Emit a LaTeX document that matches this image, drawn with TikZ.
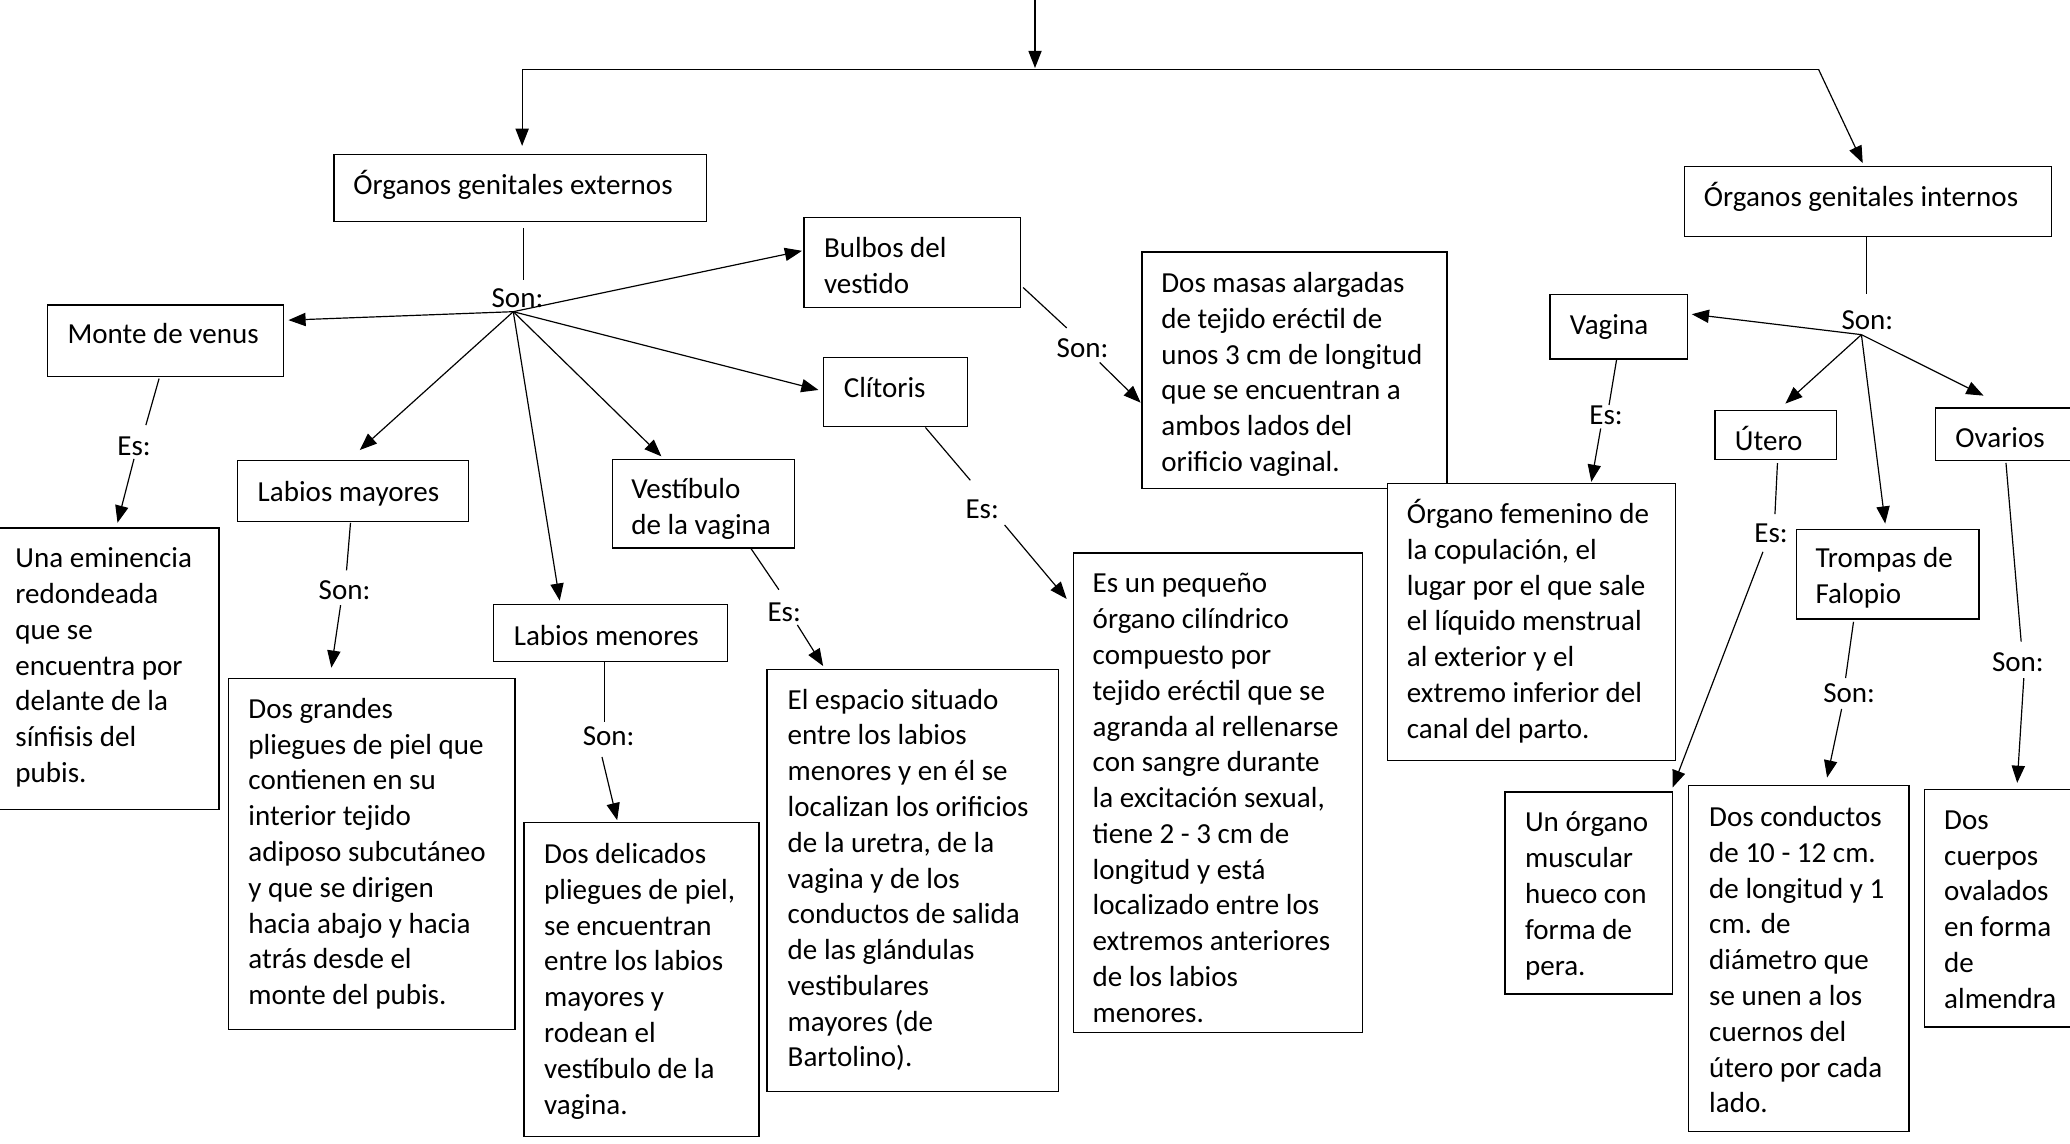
\documentclass[tikz,border=0pt]{standalone}
\usepackage{fontspec}
\setmainfont{Carlito}
\usetikzlibrary{arrows.meta}
\newcommand\mainsize{\fontsize{22}{27.1}\selectfont}
\newcommand\mkbox[5]{\node[box, anchor=north west, minimum width={#4-#2}, minimum height={#5-#3}] (#1) at (#2,#3) {};}
\newcommand\mktext[4]{\node[txt] (#1) at (#2,{#3-18}) {\strut #4};}
\tikzset{
  box/.style={draw, line width=1pt, fill=white, inner sep=0pt, outer sep=0pt},
  txt/.style={inner sep=0pt, anchor=north west, align=left, font=\mainsize},
  lbl/.style={inner sep=0pt, font=\mainsize},
  ln/.style={line width=0.9pt},
  arr/.style={line width=0.9pt, -{Triangle[length=13pt,width=10pt]}}
}
\begin{document}
\begin{tikzpicture}[x=1pt,y=-1pt]
\useasboundingbox (0,0) rectangle (1568,866);
\clip (0,0) rectangle (1568,866);
\fill[white] (0,0) rectangle (1568,866);

% ---------- top structure ----------
\coordinate (top) at (784,-3);
\coordinate (topT) at (784,51.5);
\coordinate (hL) at (395.5,52.5);
\coordinate (hR) at (1377.5,52.5);
\coordinate (tExt) at (395.5,110.5);
\coordinate (tInt) at (1411,123.6);
\draw[arr] (top) -- (topT);
\draw[ln] (hL) -- (hR);
\draw[arr] (hL) -- (tExt);
\draw[arr] (hR) -- (tInt);

% ---------- boxes ----------
\mkbox{ext}{253}{117}{535}{168}
\mkbox{int}{1276}{126}{1554}{179}
\mkbox{monte}{36}{231}{215}{285}
\mkbox{bulbos}{609}{165}{773}{233}
\mkbox{clit}{624}{271}{733}{323}
\mkbox{lmay}{180}{349}{355}{395}
\mkbox{vest}{464}{348}{602}{415}
\mkbox{lmen}{374}{458}{551}{501}
\mkbox{vagina}{1174}{223}{1278}{272}
\mkbox{utero}{1299}{311}{1391}{348}
\mkbox{ovarios}{1466}{309}{1580}{349}
\mkbox{trompas}{1361}{401}{1499}{469}

\mkbox{eminD}{-5}{400}{166}{613}
\mkbox{lmayD}{173}{514}{390}{780}
\mkbox{lmenD}{397}{623}{575}{861}
\mkbox{vestD}{581}{507}{802}{827}
\mkbox{clitD}{813}{419}{1032}{782}
\mkbox{bulbD}{865}{191}{1096}{370}
\mkbox{vagD}{1051}{366}{1269}{576}
\mkbox{utD}{1140}{600}{1267}{753}
\mkbox{tromD}{1279}{595}{1446}{857}
\mkbox{ovD}{1458}{598}{1580}{778}

% ---------- texts ----------
\mktext{ext-t}{267.5}{146}{Órganos genitales externos}
\mktext{int-t}{1290.5}{155.5}{Órganos genitales internos}
\mktext{monte-t}{51}{259}{Monte de venus}
\mktext{bulbos-t}{624}{194}{Bulbos del\\vestido}
\mktext{clit-t}{639}{300}{Clítoris}
\mktext{lmay-t}{195}{378.5}{Labios mayores}
\mktext{vest-t}{478}{376.5}{Vestíbulo\\de la vagina}
\mktext{lmen-t}{389}{488}{Labios menores}
\mktext{vagina-t}{1189}{252}{Vagina}
\mktext{utero-t}{1314}{340}{Útero}
\mktext{ovarios-t}{1481}{338}{Ovarios}
\mktext{trompas-t}{1375}{429}{Trompas de\\Falopio}

\mktext{eminD-t}{11.5}{429}{Una eminencia\\redondeada\\que se\\encuentra por\\delante de la\\sínfisis del\\pubis.}
\mktext{lmayD-t}{188}{543}{Dos grandes\\pliegues de piel que\\contienen en su\\interior tejido\\adiposo subcutáneo\\y que se dirigen\\hacia abajo y hacia\\atrás desde el\\monte del pubis.}
\mktext{lmenD-t}{412}{653}{Dos delicados\\pliegues de piel,\\se encuentran\\entre los labios\\mayores y\\rodean el\\vestíbulo de la\\vagina.}
\mktext{vestD-t}{596.5}{536}{El espacio situado\\entre los labios\\menores y en él se\\localizan los orificios\\de la uretra, de la\\vagina y de los\\conductos de salida\\de las glándulas\\vestibulares\\mayores (de\\Bartolino).}
\mktext{clitD-t}{827.5}{448}{Es un pequeño\\órgano cilíndrico\\compuesto por\\tejido eréctil que se\\agranda al rellenarse\\con sangre durante\\la excitación sexual,\\tiene 2 - 3 cm de\\longitud y está\\localizado entre los\\extremos anteriores\\de los labios\\menores.}
\mktext{bulbD-t}{879.5}{220.5}{Dos masas alargadas\\de tejido eréctil de\\unos 3 cm de longitud\\que se encuentran a\\ambos lados del\\orificio vaginal.}
\mktext{vagD-t}{1065.5}{395.5}{Órgano femenino de\\la copulación, el\\lugar por el que sale\\el líquido menstrual\\al exterior y el\\extremo inferior del\\canal del parto.}
\mktext{utD-t}{1155}{629}{Un órgano\\muscular\\hueco con\\forma de\\pera.}
\mktext{tromD-t}{1294.5}{625}{Dos conductos\\de 10 - 12 cm.\\de longitud y 1\\cm. de\\diámetro que\\se unen a los\\cuernos del\\útero por cada\\lado.}
\mktext{ovD-t}{1472.5}{627}{Dos\\cuerpos\\ovalados\\en forma\\de\\almendra}

% ---------- labels ----------
\node[lbl] (sonExt) at (392,226) {Son:};
\node[lbl] (esMonte) at (101.5,338) {Es:};
\node[lbl] (sonLmay) at (261,447) {Son:};
\node[lbl] (sonLmen) at (461,558) {Son:};
\node[lbl] (esVest) at (594,463.5) {Es:};
\node[lbl] (esClit) at (744,385.5) {Es:};
\node[lbl] (sonBulb) at (820,264) {Son:};
\node[lbl] (sonInt) at (1414.5,242.6) {Son:};
\node[lbl] (esVag) at (1216.5,314.5) {Es:};
\node[lbl] (esUt) at (1341.5,404) {Es:};
\node[lbl] (sonTrom) at (1400.7,524.8) {Son:};
\node[lbl] (sonOv) at (1528.5,501.6) {Son:};

% ---------- externos connectors ----------
\coordinate (e1) at (396.5,172.6);
\coordinate (e2) at (396.5,212.4);
\coordinate (hubE) at (388.8,236.1);
\draw[ln] (e1) -- (e2);
\coordinate (tMonte) at (218.5,242.5);
\coordinate (tBulbos) at (607.5,190);
\coordinate (tClit) at (620,295.4);
\coordinate (tLmay) at (272.5,340.9);
\coordinate (tVest) at (501,345.7);
\coordinate (tLmen) at (424,455);
\draw[arr] (hubE) -- (tMonte);
\draw[arr] (hubE) -- (tBulbos);
\draw[arr] (hubE) -- (tClit);
\draw[arr] (hubE) -- (tLmay);
\draw[arr] (hubE) -- (tVest);
\draw[arr] (hubE) -- (tLmen);

% Monte -> Es: -> eminencia
\draw[ln] (120.5,286.8) -- (110.5,322);
\draw[arr] (101.5,347.6) -- (89,396);
% Labios mayores
\draw[ln] (265.5,396) -- (262.5,432);
\draw[arr] (258,458.4) -- (251,505.8);
% Labios menores
\draw[ln] (458,501) -- (458,546.7);
\draw[arr] (456,573.4) -- (467.5,621.3);
% Vestibulo
\draw[ln] (568.5,415) -- (590,446.7);
\draw[arr] (604,473.4) -- (623.5,504.5);
% Clitoris
\draw[ln] (701,323.8) -- (735,363.8);
\draw[arr] (761,397.7) -- (808,453.7);
% Bulbos
\draw[ln] (775,217.8) -- (808,248.4);
\draw[arr] (833,274.6) -- (864,305);

% ---------- internos connectors ----------
\coordinate (i1) at (1414,179.4);
\coordinate (i2) at (1414,222.4);
\coordinate (hubI) at (1410,253.5);
\draw[ln] (i1) -- (i2);
\coordinate (tVagina) at (1281.5,238);
\coordinate (tUtero) at (1352.4,305.7);
\coordinate (tOvarios) at (1502.5,299.7);
\coordinate (tTrompas) at (1428,396.6);
\draw[arr] (hubI) -- (tVagina);
\draw[arr] (hubI) -- (tUtero);
\draw[arr] (hubI) -- (tOvarios);
\draw[arr] (hubI) -- (tTrompas);
% Vagina
\draw[ln] (1224.5,272.7) -- (1218.8,306.8);
\draw[arr] (1212.5,324.6) -- (1205.4,365);
% Utero
\draw[ln] (1346.4,350.8) -- (1344.5,389.4);
\draw[arr] (1335.4,418) -- (1267,596.5);
% Trompas
\draw[ln] (1404,471) -- (1398,513.6);
\draw[arr] (1395,537) -- (1384,589);
% Ovarios
\draw[ln] (1519.5,350.7) -- (1531,486);
\draw[arr] (1533,513.7) -- (1528,593);
\end{tikzpicture}
\end{document}
